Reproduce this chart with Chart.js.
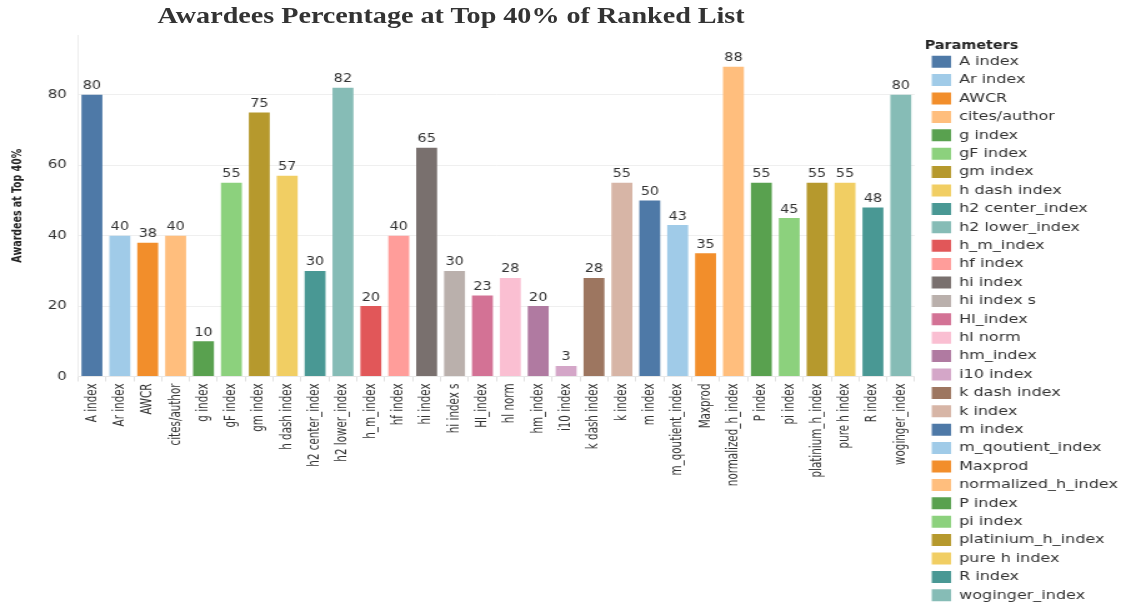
<!DOCTYPE html>
<html>
<head>
<meta charset="utf-8">
<title>Awardees Percentage at Top 40% of Ranked List</title>
<script src="https://cdn.jsdelivr.net/npm/chart.js@4/dist/chart.umd.min.js"></script>
<style>
  html, body { margin: 0; padding: 0; background: #fff; overflow: hidden; }
  /* whole chart is drawn narrow and widened, like the exported figure */
  #wrap { position: absolute; left: 0; top: 0; width: 901px; height: 607px;
          transform: scaleX(1.2497); transform-origin: 0 0; }
  #title { position: absolute; left: 0; top: 5px; width: 722px; text-align: center;
           font: bold 22.5px/22.5px "Liberation Serif", "Times New Roman", serif; color: #333; }
  #awardChart { position: absolute; left: 0; top: 0; }
</style>
</head>
<body>
<div id="wrap">
  <div id="title">Awardees Percentage at Top 40% of Ranked List</div>
  <canvas id="awardChart" width="901" height="607"></canvas>
</div>
<script>
// Awardees percentage per ranking parameter
var parameters = ["A index", "Ar index", "AWCR", "cites/author", "g index", "gF index", "gm index",
    "h dash index", "h2 center_index", "h2 lower_index", "h_m_index", "hf index", "hi index",
    "hi index s", "HI_index", "hl norm", "hm_index", "i10 index", "k dash index", "k index",
    "m index", "m_qoutient_index", "Maxprod", "normalized_h_index", "P index", "pi index",
    "platinium_h_index", "pure h index", "R index", "woginger_index"];
var awardeesTop40 = [80, 40, 38, 40, 10, 55, 75, 57, 30, 82, 20, 40, 65, 30, 23, 28, 20, 3, 28, 55,
    50, 43, 35, 88, 55, 45, 55, 55, 48, 80];
var yTicks = [0, 20, 40, 60, 80];

var tableau20 = ["#4E79A7", "#A0CBE8", "#F28E2B", "#FFBE7D", "#59A14F", "#8CD17D", "#B6992D", "#F1CE63",
    "#499894", "#86BCB6", "#E15759", "#FF9D9A", "#79706E", "#BAB0AC", "#D37295", "#FABFD2",
    "#B07AA1", "#D4A6C8", "#9D7660", "#D7B5A6"];
var barColors = parameters.map((p, i) => tableau20[i % tableau20.length]);

// value written above every bar
const valueLabels = {
    id: 'valueLabels',
    afterDatasetsDraw(chart) {
        const ctx = chart.ctx;
        const meta = chart.getDatasetMeta(0);
        ctx.save();
        ctx.font = '11.5px "DejaVu Sans"';
        ctx.fillStyle = '#333';
        ctx.textAlign = 'center';
        ctx.textBaseline = 'alphabetic';
        meta.data.forEach((bar, i) => {
            ctx.fillText(awardeesTop40[i], bar.x, bar.y - 5.5);
        });
        ctx.restore();
    }
};

new Chart("awardChart", {
    type: "bar",
    data: {
        labels: parameters,
        datasets: [{
            data: awardeesTop40,
            backgroundColor: barColors,
            borderWidth: 0,
            barPercentage: 0.75,
            categoryPercentage: 1
        }]
    },
    options: {
        responsive: false,
        animation: false,
        devicePixelRatio: 1,
        layout: { padding: { top: 35, right: -3.5, bottom: -4, left: 0 } },
        plugins: {
            tooltip: { enabled: false },
            title: { display: false },
            legend: {
                position: 'right',
                align: 'start',
                maxWidth: 220,
                onClick: null,
                title: {
                    display: true,
                    text: 'Parameters',
                    position: 'start',
                    color: '#222',
                    font: { family: '"DejaVu Sans"', size: 11.5, weight: 'bold', lineHeight: 0.8 },
                    padding: { top: 5.5, bottom: 0 }
                },
                labels: {
                    boxWidth: 15.5,
                    boxHeight: 12,
                    padding: 5.6,
                    color: '#333',
                    font: { family: '"DejaVu Sans"', size: 12.8 },
                    generateLabels: () => parameters.map((name, i) => ({
                        text: name,
                        fillStyle: barColors[i],
                        strokeStyle: barColors[i],
                        lineWidth: 0,
                        fontColor: '#333',
                        hidden: false,
                        index: i
                    }))
                }
            }
        },
        scales: {
            x: {
                grid: { display: true, drawOnChartArea: false, drawTicks: true, tickLength: 5, color: '#e2e2e2', offset: true },
                border: { display: true, color: '#e8e8e8' },
                ticks: {
                    autoSkip: false, maxRotation: 90, minRotation: 90, padding: 2, color: '#333',
                    font: { family: '"DejaVu Sans Condensed", "DejaVu Sans"', size: 11.5 }
                },
                afterFit: (scale) => { scale.height = 234.5; }
            },
            y: {
                min: 0,
                max: 97,
                afterBuildTicks: (scale) => {
                    scale.ticks = yTicks.map(v => ({ value: v }));
                },
                grid: { color: '#efefef', drawTicks: false },
                border: { display: true, color: '#ececec' },
                ticks: { padding: 9, color: '#333', font: { family: '"DejaVu Sans"', size: 12 } },
                title: {
                    display: true,
                    text: 'Awardees at Top 40%',
                    color: '#222',
                    font: { family: '"DejaVu Sans Condensed", "DejaVu Sans"', size: 10.5, weight: 'bold' },
                    padding: { top: 7.7, bottom: 0 }
                },
                afterFit: (scale) => { scale.width = 62.4; }
            },
            yRight: {
                position: 'right',
                display: true,
                grid: { display: false },
                border: { display: false },
                ticks: { display: false },
                afterFit: (scale) => { scale.width = 8; }
            }
        }
    },
    plugins: [valueLabels]
});
</script>
</body>
</html>
